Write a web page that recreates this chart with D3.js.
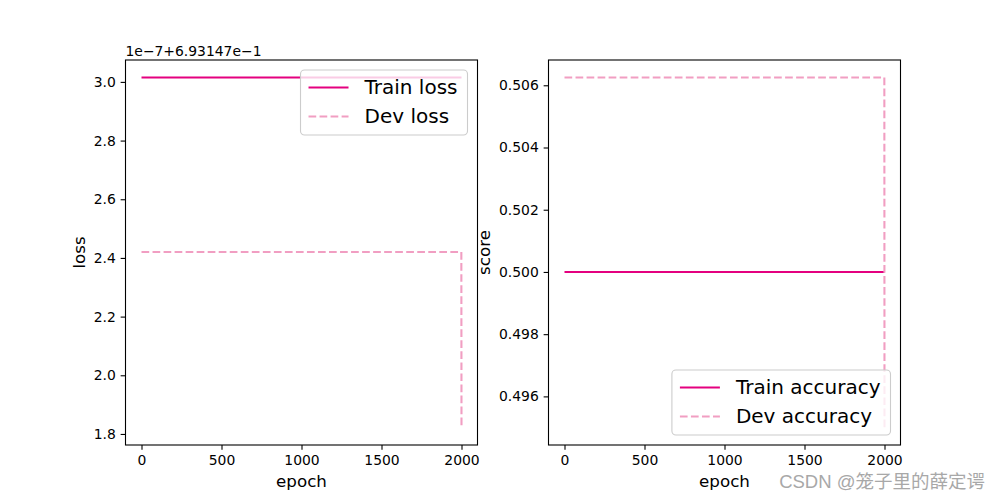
<!DOCTYPE html>
<html><head><meta charset="utf-8">
<script src="https://cdn.jsdelivr.net/npm/d3@7"></script>
<style>body{margin:0;background:#fff}svg{display:block}text{font-family:"DejaVu Sans",sans-serif}</style>
</head><body>
<svg id="c" width="1000" height="500"></svg>
<script>
// ---- data ----
const trainLossEpochs = [0, 2000];
const trainLoss = [0.6931473015, 0.6931473015];
const devLossEpochs = [0, 1999, 2000];
const devLoss = [0.6931472420, 0.6931472420, 0.6931471822];
const trainAccEpochs = [0, 2000];
const trainAcc = [0.5, 0.5];
const devAccEpochs = [0, 1999, 2000];
const devAcc = [0.50625, 0.50625, 0.495];
const xTicks = [0, 500, 1000, 1500, 2000];
const lossOffset = 0.693147, lossScale = 1e-7;
const lossTicks = [1.8, 2.0, 2.2, 2.4, 2.6, 2.8, 3.0];
const accTicks = [0.496, 0.498, 0.500, 0.502, 0.504, 0.506];
const offsetText = "1e\u22127+6.93147e\u22121";
const watermark = "CSDN @笼子里的薛定谔";
const cTrain = "#e4007f", cDev = "#f19ec2";

const svg = d3.select("#c");
const plotTop = 60, plotBottom = 445;
const tickLen = 4.86, tickPad = 4.86, tickFont = 13.9;

function pad5(ext){const r = ext[1]-ext[0]; return [ext[0]-0.05*r, ext[1]+0.05*r];}

function panel(opt){
  const g = svg.append("g");
  const x = d3.scaleLinear().domain(pad5([0, 2000])).range([opt.left, opt.right]);
  const allY = opt.series.flatMap(s => s.y);
  const y = d3.scaleLinear().domain(pad5(d3.extent(allY))).range([plotBottom, plotTop]);
  // lines
  opt.series.forEach(s => {
    const pts = s.x.map((e, i) => [e, s.y[i]]);
    g.append("path").datum(pts)
      .attr("d", d3.line().x(d => x(d[0])).y(d => y(d[1])))
      .attr("fill", "none").attr("stroke", s.color).attr("stroke-width", 2.08)
      .attr("stroke-dasharray", s.dash ? "7.7,3.33" : null);
  });
  // x axis
  const xa = d3.axisBottom(x).tickValues(xTicks).tickFormat(d3.format("d")).tickSize(tickLen).tickPadding(tickPad).tickSizeOuter(0);
  const gx = g.append("g").attr("transform", `translate(0,${plotBottom})`).call(xa);
  gx.select(".domain").remove();
  gx.selectAll("line").attr("stroke", "#000").attr("stroke-width", 1.1);
  gx.selectAll("text").attr("font-size", tickFont).attr("fill", "#000").attr("font-family", "DejaVu Sans");
  // y axis
  const ya = d3.axisLeft(y).tickValues(opt.ticks.map(opt.tickVal)).tickFormat((d, i) => opt.tickLabel(opt.ticks[i])).tickSize(tickLen).tickPadding(tickPad).tickSizeOuter(0);
  const gy = g.append("g").attr("transform", `translate(${opt.left},0)`).call(ya);
  gy.select(".domain").remove();
  gy.selectAll("line").attr("stroke", "#000").attr("stroke-width", 1.1);
  gy.selectAll("text").attr("font-size", tickFont).attr("fill", "#000").attr("font-family", "DejaVu Sans");
  // frame
  g.append("rect").attr("x", opt.left).attr("y", plotTop).attr("width", opt.right - opt.left).attr("height", plotBottom - plotTop)
    .attr("fill", "none").attr("stroke", "#000").attr("stroke-width", 1.1);
  // labels
  g.append("text").attr("x", (opt.left + opt.right) / 2).attr("y", 487).attr("text-anchor", "middle")
    .attr("font-size", 16.7).text("epoch");
  g.append("text").attr("transform", `translate(${opt.ylabelX},${(plotTop + plotBottom) / 2}) rotate(-90)`)
    .attr("text-anchor", "middle").attr("font-size", 16.7).text(opt.ylabel);
  // legend
  const fs = 20, bp = 8, hl = 40, htp = 16, rowH = 29;
  const lg = g.append("g");
  const texts = opt.series.map((s, i) => lg.append("text").attr("font-size", fs).text(s.label));
  const tw = d3.max(texts, t => t.node().getComputedTextLength());
  const w = bp + hl + htp + tw + bp + 2, h = bp * 2 + rowH * (opt.series.length - 1) + 19 + 1;
  const bx = opt.right - 10 - w;
  const by = opt.legendLoc === "upper" ? plotTop + 10 : plotBottom - 10 - h;
  lg.insert("rect", "text").attr("x", bx).attr("y", by).attr("width", w).attr("height", h).attr("rx", 4)
    .attr("fill", "#fff").attr("fill-opacity", 0.8).attr("stroke", "#cccccc").attr("stroke-width", 1.1);
  opt.series.forEach((s, i) => {
    const cy = by + bp + 9.5 + i * rowH;
    lg.append("line").attr("x1", bx + bp).attr("x2", bx + bp + hl).attr("y1", cy).attr("y2", cy)
      .attr("stroke", s.color).attr("stroke-width", 2.08).attr("stroke-dasharray", s.dash ? "7.7,3.33" : null);
    texts[i].attr("x", bx + bp + hl + htp).attr("y", cy + 6.5);
  });
  return g;
}

panel({left: 125.5, right: 477.5, ylabel: "loss", ylabelX: 85, legendLoc: "upper",
  ticks: lossTicks, tickVal: t => lossOffset + t * lossScale, tickLabel: t => t.toFixed(1),
  series: [
    {x: trainLossEpochs, y: trainLoss, color: cTrain, dash: false, label: "Train loss"},
    {x: devLossEpochs, y: devLoss, color: cDev, dash: true, label: "Dev loss"}
  ]});
svg.append("text").attr("x", 125.5).attr("y", 56).attr("font-size", tickFont).text(offsetText);

svg.append("text").attr("x", 985).attr("y", 488).attr("text-anchor", "end")
  .style("font-family", "'Liberation Sans', 'Noto Sans CJK SC', sans-serif").attr("font-size", 18.5)
  .attr("fill", "#a8a8a8").text(watermark);

panel({left: 548.5, right: 900.5, ylabel: "score", ylabelX: 490, legendLoc: "lower",
  ticks: accTicks, tickVal: t => t, tickLabel: t => t.toFixed(3),
  series: [
    {x: trainAccEpochs, y: trainAcc, color: cTrain, dash: false, label: "Train accuracy"},
    {x: devAccEpochs, y: devAcc, color: cDev, dash: true, label: "Dev accuracy"}
  ]});
</script>
</body></html>
